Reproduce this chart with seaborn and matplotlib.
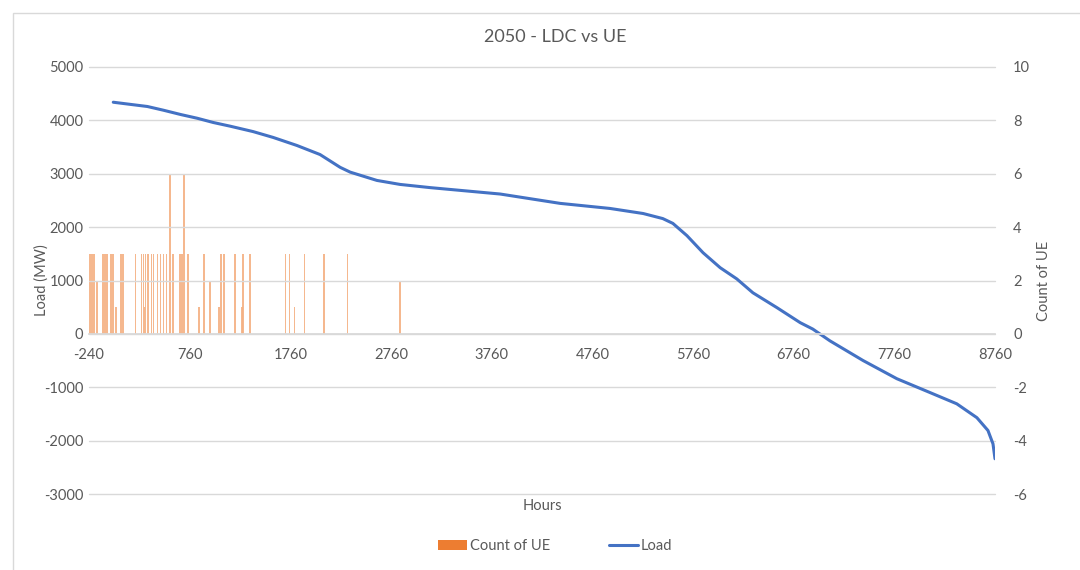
import numpy as np
import matplotlib
matplotlib.use('Agg')
import matplotlib.pyplot as plt
from matplotlib.patches import Patch, Rectangle
from matplotlib.lines import Line2D
import pandas as pd
import seaborn as sns

# load duration curve
load_hour = [1, 170, 340, 500, 670, 835, 995, 1165, 1390, 1590, 1825, 2055, 2255,
             2355, 2620, 2850, 3150, 3845, 4440, 4935, 5265, 5460, 5560, 5700,
             5860, 6030, 6195, 6355, 6595, 6825, 6950, 7120, 7450, 7785, 8115,
             8380, 8580, 8690, 8740, 8760]
load_mw = [4340, 4300, 4260, 4190, 4110, 4040, 3960, 3890, 3790, 3680, 3530, 3360,
           3120, 3030, 2875, 2800, 2740, 2620, 2445, 2350, 2255, 2160, 2070, 1840,
           1520, 1240, 1030, 770, 490, 210, 90, -130, -500, -840, -1100, -1310,
           -1570, -1810, -2060, -2340]

# hours with unserved energy and how many
ue_hour = [-230, -210, -190, -160, -100, -80, -60, -20, 0, 30, 80, 100, 220, 280,
           300, 310, 320, 340, 350, 380, 400, 440, 470, 500, 530, 565, 595, 665,
           685, 705, 745, 855, 900, 960, 1050, 1070, 1100, 1210, 1280, 1290, 1360,
           1710, 1750, 1800, 1900, 2095, 2330, 2850]
ue_count = [3, 3, 3, 2, 3, 3, 3, 3, 3, 1, 3, 3, 3, 3,
            3, 1, 3, 3, 3, 3, 3, 3, 3, 3, 3, 6, 3, 3,
            3, 6, 3, 1, 3, 2, 1, 3, 3, 3, 1, 3, 3,
            3, 3, 1, 3, 3, 3, 2]

x_ticks = [-240, 760, 1760, 2760, 3760, 4760, 5760, 6760, 7760, 8760]

sns.set_theme(style='white')
plt.rcParams['font.family'] = ['Lato', 'DejaVu Sans']
plt.rcParams['axes.unicode_minus'] = False
txt = '#595959'
grid = '#D9D9D9'

df_load = pd.DataFrame({'hour': load_hour, 'load': load_mw})

fig = plt.figure(figsize=(10.8, 5.7), dpi=100)
ax = fig.add_axes([89/1080, 1-494/570, 906/1080, 427/570])
ax2 = ax.twinx()

# UE bars on the secondary axis
ax2.bar(ue_hour, ue_count, width=15, color='#F4B183', alpha=0.9, linewidth=0)
ax2.set_ylim(-6, 10)
ax2.set_yticks(range(-6, 11, 2))

sns.lineplot(data=df_load, x='hour', y='load', ax=ax, color='#4472C4', linewidth=2.2)
ax.set_zorder(ax2.get_zorder() + 1)
ax.patch.set_visible(False)

ax.set_xlim(-240, 8760)
ax.set_ylim(-3000, 5000)
ax.set_yticks(range(-3000, 5001, 1000))
ax.set_xticks(x_ticks)
ax.yaxis.grid(True, color=grid, linewidth=1)
ax.set_axisbelow(True)
for gl in ax.get_ygridlines():
    gl.set_clip_on(False)

for a in (ax, ax2):
    for s in a.spines.values():
        s.set_visible(False)
ax.spines['bottom'].set_visible(True)
ax.spines['bottom'].set_position(('data', 0))
ax.spines['bottom'].set_color(grid)

ax.tick_params(axis='x', length=0, pad=10, labelsize=10.5, labelcolor=txt)
ax.tick_params(axis='y', length=0, pad=4, labelsize=10.5, labelcolor=txt)
ax2.tick_params(axis='y', length=0, pad=13, labelsize=10.5, labelcolor=txt)

ax.set_xlabel('Hours', fontsize=10.5, color=txt)
ax.xaxis.set_label_coords(0.5, -0.012)
ax.set_ylabel('Load (MW)', fontsize=10.5, color=txt)
ax.yaxis.set_label_coords(-0.045, 0.5)
ax2.set_ylabel('Count of UE', fontsize=10.5, color=txt)
ax2.yaxis.set_label_coords(1.046, 0.5)

fig.text(555/1080, 1-37/570, '2050 - LDC vs UE', ha='center', va='center',
         fontsize=13, color=txt)

handles = [Patch(facecolor='#ED7D31', edgecolor='none'),
           Line2D([0], [0], color='#4472C4', linewidth=2.2)]
fig.legend(handles, ['Count of UE', 'Load'], loc='center', bbox_to_anchor=(555/1080, 1-546/570),
           ncol=2, frameon=False, fontsize=10.5, labelcolor=txt, columnspacing=4,
           handlelength=2.0, handletextpad=0.2)

fig.add_artist(Rectangle((13/1080, -0.05), 1.2, 1.05 - 13/570, transform=fig.transFigure,
                         fill=False, edgecolor=grid, linewidth=1))

fig.savefig('out.png', dpi=100)
